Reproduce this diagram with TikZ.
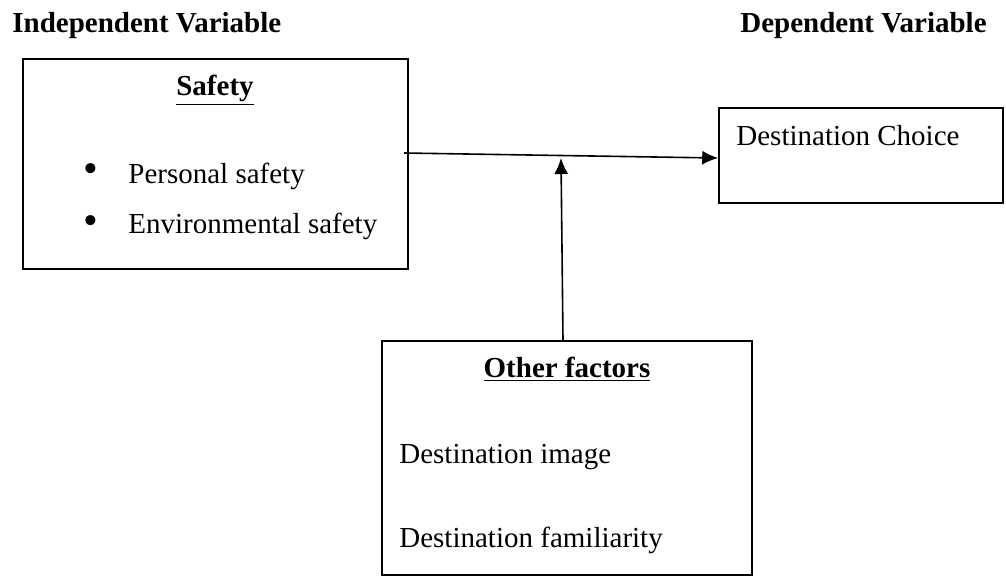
\documentclass[tikz,border=0pt]{standalone}
\usepackage{fontspec}
\setmainfont{Liberation Serif}
\usetikzlibrary{arrows.meta,positioning}

\begin{document}
\begin{tikzpicture}[x=0.5pt,y=-0.5pt,
  box/.style={draw,line width=0.8pt,rectangle,inner sep=0pt},
  txt/.style={anchor=base west,inner sep=0pt,font=\fontsize{14.5}{17}\selectfont},
  head/.style={txt,font=\fontsize{14.5}{17}\selectfont\bfseries},
  ttl/.style={anchor=base,inner sep=0pt,font=\fontsize{14.5}{17}\selectfont\bfseries},
  dot/.style={inner sep=0pt,font=\fontsize{21}{24}\selectfont},
  link/.style={line width=0.8pt,-{Latex[length=8pt,width=7pt]}}]
\useasboundingbox (0,0) rectangle (1006,586);

% headings
\node[head] (indep) at (12,32) {Independent Variable};
\node[head] (dep) at (740,32) {Dependent Variable};

% safety box
\node[box,minimum width=192.5pt,minimum height=105pt] (safety) at (215.5,164) {};
\node[ttl] (safetyttl) at (215,95) {\underline{Safety}};
\node[dot] (b1) at (91,173) {\textbullet};
\node[dot] (b2) at (91,225) {\textbullet};
\node[txt] (personal) at (128,183) {Personal safety};
\node[txt] (environ) at (128,233) {Environmental safety};

% destination choice
\node[box,minimum width=142pt,minimum height=47.5pt] (dest) at (861,155.5) {};
\node[txt] (destttl) at (736,145) {Destination Choice};

% other factors box
\node[box,minimum width=185pt,minimum height=117pt] (other) at (567,458) {};
\node[ttl] (otherttl) at (567,377) {\underline{Other factors}};
\node[txt] (image) at (399,463) {Destination image};
\node[txt] (familiar) at (399,547) {Destination familiarity};

% connectors
\coordinate (lineStart) at (404,153);
\coordinate (meet) at (561,158);
\draw[link] (lineStart) -- ([yshift=-1.25pt]dest.west);
\draw[link] ([xshift=-2pt]other.north) -- (meet);
\end{tikzpicture}
\end{document}
